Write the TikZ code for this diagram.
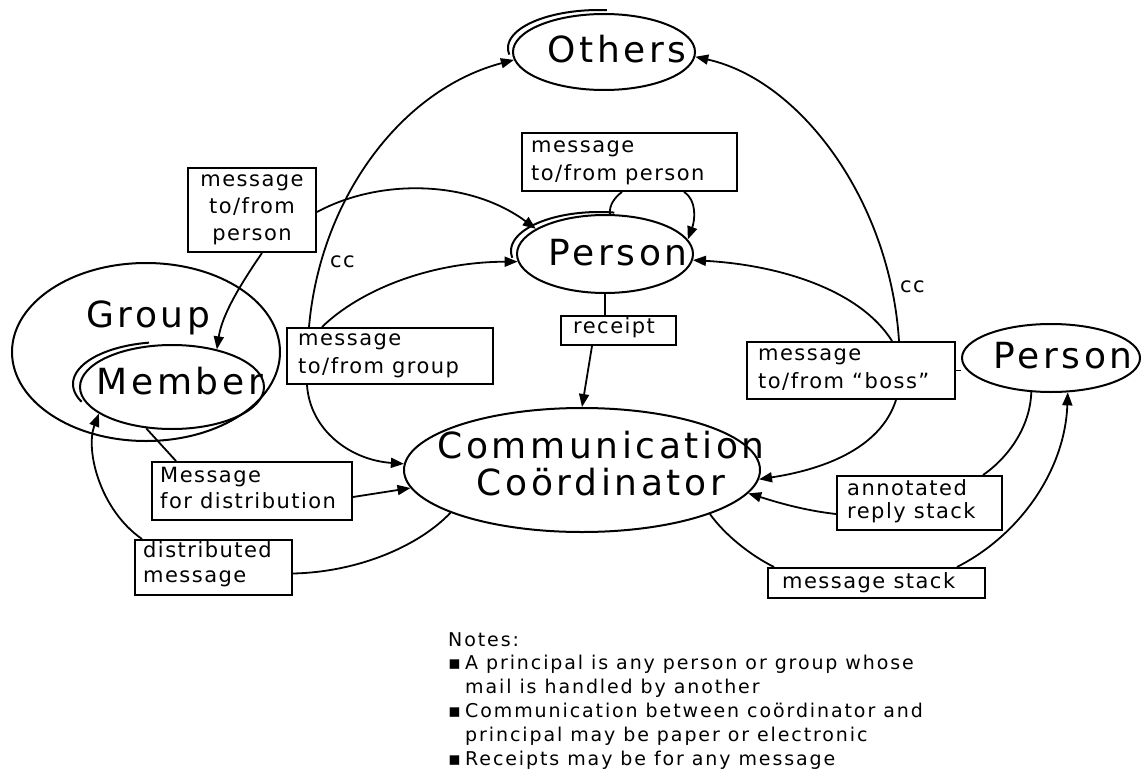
\documentclass[tikz,border=0pt]{standalone}
\usepackage{fontspec}
\setmainfont{DejaVu Sans}
\newfontfamily\titlefont{DejaVu Sans}[LetterSpace=10]
\newfontfamily\labelfont{DejaVu Sans}[LetterSpace=7]
\newfontfamily\notefont{DejaVu Sans}[LetterSpace=10]
\usetikzlibrary{shapes.geometric,arrows.meta,calc}

\begin{document}
\begin{tikzpicture}[x=1pt,y=-1pt,
  outline/.style={line width=2pt},
  bubble/.style={ellipse, draw, line width=2pt, inner sep=0pt},
  msgbox/.style={rectangle, draw, line width=2pt, inner sep=0pt},
  bigtext/.style={inner sep=0pt, anchor=base, align=center,
    font=\titlefont\fontsize{36}{37}\selectfont},
  boxtext/.style={inner sep=0pt, anchor=base west, align=left,
    font=\labelfont\fontsize{21}{28}\selectfont},
  wire/.style={line width=1.8pt},
  arr/.style={wire, -{Triangle[length=13pt,width=10pt]}},
]
\useasboundingbox (0,0) rectangle (1143,771);

% ---------- ellipses ----------
% (multi-line texts are placed by the baseline of their last line)
\node[bubble, minimum width=182pt, minimum height=76pt] (others) at (604,52) {};
\draw[outline] plot[domain=85:190, samples=50] ({599+91*cos(\x)}, {48-38*sin(\x)});
\node[bigtext] (others-label) at (617,62) {Others};

\node[bubble, minimum width=176pt, minimum height=78pt] (person) at (605,254) {};
\draw[outline] plot[domain=80:190, samples=50] ({599+88*cos(\x)}, {251-39*sin(\x)});
\node[bigtext] (person-label) at (618,265) {Person};

\node[bubble, minimum width=268pt, minimum height=178pt] (group) at (146,352) {};
\node[bigtext] (group-label) at (148,327) {Group};

\node[bubble, minimum width=184pt, minimum height=84pt] (member) at (172,387) {};
\draw[outline] plot[domain=100:205, samples=50] ({165+92*cos(\x)}, {384-42*sin(\x)});
\node[bigtext] (member-label) at (180,394) {Member};

\node[bubble, minimum width=356pt, minimum height=124pt] (coord) at (582,470) {};
\node[bigtext] (coord-label) at (601,495) {Communication\\Coördinator};

\node[bubble, minimum width=178pt, minimum height=68pt] (rperson) at (1051,358) {};
\node[bigtext] (rperson-label) at (1063,368) {Person};

% ---------- message boxes ----------
\node[msgbox, minimum width=215pt, minimum height=58pt] (boxA) at (629.5,162) {};
\node[msgbox, minimum width=128pt, minimum height=84pt] (boxB) at (252,210) {};
\node[msgbox, minimum width=206pt, minimum height=56pt] (boxC) at (390,356) {};
\node[msgbox, minimum width=115pt, minimum height=29pt] (boxD) at (618.5,330.5) {};
\node[msgbox, minimum width=208pt, minimum height=57pt] (boxE) at (851,370.5) {};
\node[msgbox, minimum width=200pt, minimum height=58pt] (boxF) at (252,491) {};
\node[msgbox, minimum width=157pt, minimum height=55pt] (boxG) at (213.5,567.5) {};
\node[msgbox, minimum width=165pt, minimum height=54pt] (boxH) at (919.5,503) {};
\node[msgbox, minimum width=217pt, minimum height=30pt] (boxI) at (876.5,583) {};

\node[boxtext] (textA) at (531,180) {message\\to/from person};
\node[boxtext, anchor=base, align=center, font=\labelfont\fontsize{21}{27}\selectfont]
  (textB) at (252,240) {message\\to/from\\person};
\begin{scope}
  \clip (boxC.north west) rectangle (boxC.south east);
  \node[boxtext] (textC) at (298,373) {message\\to/from group};
\end{scope}
\begin{scope}
  \clip (boxD.north west) rectangle (boxD.south east);
  \node[boxtext] (textD) at (573,333) {receipt};
\end{scope}
\node[boxtext] (textE) at (758,388) {message\\to/from “boss”};
\begin{scope}
  \clip (boxF.north west) rectangle ($(boxF.south east)+(12,0)$);
  \node[boxtext, font=\labelfont\fontsize{21}{26}\selectfont] (textF) at (160,508)
    {Message\\for distribution};
\end{scope}
\begin{scope}
  \clip (boxG.north west) rectangle (boxG.south east);
  \node[boxtext, font=\labelfont\fontsize{21}{25}\selectfont] (textG) at (143,582)
    {distributed\\message};
\end{scope}
\node[boxtext, font=\labelfont\fontsize{21}{23}\selectfont] (textH) at (847,518)
  {annotated\\reply stack};
\node[boxtext] (textI) at (782,588) {message stack};

\node[boxtext] (cc-left) at (330,267) {cc};
\node[boxtext] (cc-right) at (900,292) {cc};

% ---------- connectors ----------
% group messages: cc to others, to person, to coordinator
\draw[arr] ($(boxC.north west)+(23,0)$) .. controls (320,200) and (400,90) .. (others.185);
\draw[arr] ($(boxC.south west)+(21,0)$) .. controls (310,430) and (350,460) .. (coord.178);
\draw[arr] ($(boxC.north west)+(36,0)$) .. controls (360,290) and (430,262) .. (person.185);

% person-to-person messages
\draw[arr] ($(boxB.east)+(0,2)$) .. controls (380,178) and (470,180) .. (person.160);
\draw[arr] ($(boxB.south west)+(75,0)$) .. controls (240,285) and (222,315) .. (member.40);
\draw[wire] ($(boxA.south west)+(101,0)$) .. controls (615,197) and (609,205) .. (person.83);
\draw[arr] ($(boxA.south west)+(163,0)$) .. controls (697,200) and (695,220) .. (person.10);

% receipt
\draw[wire] (person.south) -- (person.south |- boxD.north);
\draw[arr] ($(boxD.south west)+(32,0)$) -- (coord.north);

% messages to/from the boss
\draw[arr] ($(boxE.north west)+(153,0)$) .. controls (890,200) and (800,80) .. (others.357);
\draw[arr] ($(boxE.north west)+(146,0)$) .. controls (860,290) and (780,265) .. (person.356);
\draw[arr] ($(boxE.south west)+(150,0)$) .. controls (880,450) and (820,470) .. (coord.357);
\draw[wire] (boxE.east) -- (boxE.east -| rperson.west);

% distribution
\draw[wire] (member.238) -- ($(boxF.north west)+(25,0)$);
\draw[arr] ($(boxF.east)+(0,6)$) -- (coord.186);
\draw[wire] (coord.198) .. controls (420,545) and (360,572) .. ($(boxG.east)+(0,6)$);
\draw[arr] ($(boxG.north west)+(8,0)$) .. controls (100,510) and (85,450) .. (member.200);

% stacks
\draw[wire] (rperson.240) .. controls (1030,430) and (1005,460) .. ($(boxH.north east)+(-20,0)$);
\draw[arr] ($(boxH.west)+(0,11)$) .. controls (800,510) and (770,500) .. (coord.352);
\draw[wire] (coord.341) .. controls (725,535) and (750,555) .. ($(boxI.north west)+(7,0)$);
\draw[arr] ($(boxI.north west)+(190,0)$) .. controls (1020,535) and (1065,470) .. (rperson.296);

% ---------- notes ----------
\node[inner sep=0pt, anchor=base west, align=left,
      font=\notefont\fontsize{19}{23.8}\selectfont] (notes) at (448,765)
  {Notes:\\
   \makebox[17pt][l]{▪}A principal is any person or group whose\\
   \hspace*{17pt}mail is handled by another\\
   \makebox[17pt][l]{▪}Communication between coördinator and\\
   \hspace*{17pt}principal may be paper or electronic\\
   \makebox[17pt][l]{▪}Receipts may be for any message};
\end{tikzpicture}
\end{document}
